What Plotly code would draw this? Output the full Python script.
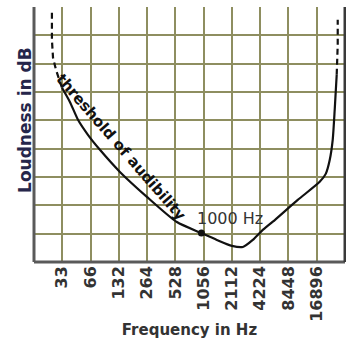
import math
import plotly.graph_objects as go

# Tick labels (frequencies in Hz)
tick_freqs = [33, 66, 132, 264, 528, 1056, 2112, 4224, 8448, 16896]
tick_labels = ["33", "66", "132", "264", "528", "1056", "2112", "4224", "8448", "16896"]

# Threshold of audibility (loudness in grid units, 0..9)
left_dash_f = [25.6, 25.6, 26.3, 28.3, 31.2, 32.8]
left_dash_y = [8.80, 7.84, 7.21, 6.78, 6.36, 6.15]

solid_f = [32.8, 39.8, 48.5, 61.9, 83.1, 135.6, 262.7, 548, 1000, 1459, 2112, 2759,
           3525, 4394, 6040, 10610, 18180, 21070, 23230, 25000, 26250, 27570]
solid_y = [6.15, 5.65, 5.02, 4.49, 3.96, 3.18, 2.30, 1.41, 1.02, 0.78, 0.57, 0.53,
           0.78, 1.10, 1.48, 2.19, 2.83, 3.11, 3.60, 4.31, 5.37, 6.61]

right_dash_f = [27570, 28270, 28270]
right_dash_y = [6.61, 7.67, 8.55]

ref_f = [1000]
ref_y = [1.02]

x_lo, x_hi = 16.5, 33792
y_lo, y_hi = 0, 9

line_col = "#111111"
grid_col = "#8e8e60"

fig = go.Figure()
fig.add_trace(go.Scatter(x=left_dash_f, y=left_dash_y, mode="lines",
                         line=dict(color=line_col, width=2.2, dash="6px,4px"),
                         hoverinfo="skip"))
fig.add_trace(go.Scatter(x=solid_f, y=solid_y, mode="lines",
                         line=dict(color=line_col, width=2.2, shape="spline", smoothing=0.6),
                         hoverinfo="skip"))
fig.add_trace(go.Scatter(x=right_dash_f, y=right_dash_y, mode="lines",
                         line=dict(color=line_col, width=2.2, dash="6px,4px"),
                         hoverinfo="skip"))
fig.add_trace(go.Scatter(x=ref_f, y=ref_y, mode="markers",
                         marker=dict(color=line_col, size=7), hoverinfo="skip"))

fig.update_layout(
    width=346, height=339,
    margin=dict(l=34, r=1, t=7, b=77),
    paper_bgcolor="white", plot_bgcolor="white",
    showlegend=False,
    font=dict(family="DejaVu Sans", color="#333333"),
)
fig.update_xaxes(type="log", range=[math.log10(x_lo), math.log10(x_hi)],
                 tickmode="array", tickvals=tick_freqs, ticktext=tick_labels,
                 tickangle=-90, tickfont=dict(size=16, family="DejaVu Sans", weight="bold", color="#333333"),
                 showgrid=True, gridcolor=grid_col, gridwidth=1.5,
                 showline=False, zeroline=False, ticks="", ticklen=0,
                 title=dict(text="<b>Frequency in Hz</b>", font=dict(size=15, color="#333333"), standoff=4))
fig.update_yaxes(range=[y_lo, y_hi], dtick=1, showticklabels=False,
                 showgrid=True, gridcolor=grid_col, gridwidth=1.5,
                 showline=False, zeroline=False, ticks="")

# borders
fig.add_shape(type="line", xref="paper", yref="paper", x0=0, x1=0, y0=0, y1=1,
              line=dict(color="#5a5a5a", width=3))
fig.add_shape(type="line", xref="paper", yref="paper", x0=0, x1=1, y0=0, y1=0,
              line=dict(color="#5a5a5a", width=3))
fig.add_shape(type="line", xref="paper", yref="paper", x0=1, x1=1, y0=0, y1=1,
              line=dict(color="#3a3a3a", width=3))

fig.add_annotation(text="<b>Loudness in dB</b>", xref="paper", yref="paper",
                   x=-0.029, y=0.557, xanchor="center", yanchor="middle", textangle=-90,
                   showarrow=False, font=dict(size=17, color="#26264a"))
fig.add_annotation(text="<b>threshold of audibility</b>", x=math.log10(139), y=4.06,
                   textangle=49, showarrow=False,
                   font=dict(size=15, color="#111111"))
fig.add_annotation(text="1000 Hz", x=math.log10(1000), y=1.55, xanchor="left", xshift=-6,
                   showarrow=False, font=dict(size=16, color="#333333"))

fig.write_html("out.html", post_script="document.body.style.margin='0';",
               config={"displayModeBar": False})
